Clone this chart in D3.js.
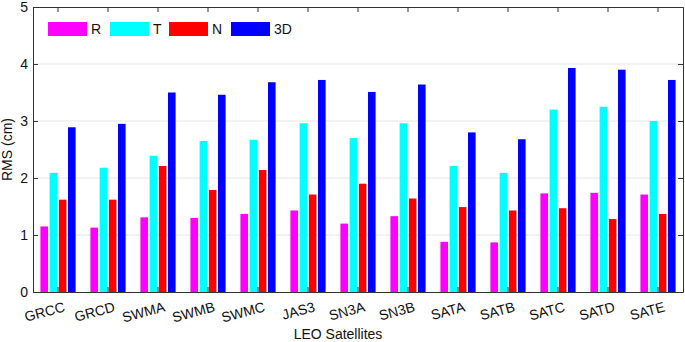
<!DOCTYPE html>
<html lang="en">
<head>
<meta charset="UTF-8">
<title>LEO RMS</title>
<script src="https://d3js.org/d3.v7.min.js"></script>
<style>
  body { margin: 0; background: #fff; }
  text { font-family: "Liberation Sans", Arial, sans-serif; fill: #111; }
</style>
</head>
<body>
<script>
var width = 685, height = 342;
var margin = { top: 7, right: 2, bottom: 50, left: 33 };

// data
var satellites = ['GRCC', 'GRCD', 'SWMA', 'SWMB', 'SWMC', 'JAS3', 'SN3A', 'SN3B', 'SATA', 'SATB', 'SATC', 'SATD', 'SATE'];
var seriesNames = ['R', 'T', 'N', '3D'];
var colors = ['#ff00ff', '#00ffff', '#ff0000', '#0000ff'];
var rValues = [1.15, 1.13, 1.31, 1.30, 1.37, 1.43, 1.20, 1.33, 0.88, 0.87, 1.73, 1.74, 1.71];
var tValues = [2.09, 2.18, 2.39, 2.65, 2.67, 2.96, 2.70, 2.96, 2.21, 2.09, 3.20, 3.25, 3.00];
var nValues = [1.62, 1.62, 2.21, 1.79, 2.14, 1.71, 1.90, 1.64, 1.49, 1.43, 1.47, 1.28, 1.37];
var d3Values = [2.89, 2.95, 3.50, 3.46, 3.68, 3.72, 3.51, 3.64, 2.80, 2.68, 3.93, 3.90, 3.72];
var yTicks = [0, 1, 2, 3, 4, 5];

var series = [rValues, tValues, nValues, d3Values];

var svg = d3.select('body').append('svg').attr('width', width).attr('height', height);
var plotW = width - margin.left - margin.right;
var plotH = height - margin.top - margin.bottom;
var g = svg.append('g').attr('transform', 'translate(' + margin.left + ',' + margin.top + ')');

var x = d3.scaleBand().domain(satellites).range([0, plotW]);
// 4 bars per group, spacing 9.2, width 7.6, centred on the category
var step = 9.2, barW = 7.6;
var y = d3.scaleLinear().domain([0, 5]).range([plotH, 0]);
var xc = function (d) { return x(d) + x.bandwidth() / 2; };

// grid
g.append('g').selectAll('line').data(yTicks.filter(function (d) { return d > 0 && d < 5; }))
  .join('line')
  .attr('x1', 0).attr('x2', plotW)
  .attr('y1', function (d) { return y(d); }).attr('y2', function (d) { return y(d); })
  .attr('stroke', '#e6e6e6').attr('stroke-width', 1);

// bars
var groups = g.append('g').selectAll('g').data(satellites).join('g')
  .attr('transform', function (d) { return 'translate(' + xc(d) + ',0)'; });

groups.selectAll('rect')
  .data(function (d, i) { return series.map(function (s, k) { return { k: k, v: s[i] }; }); })
  .join('rect')
  .attr('x', function (d) { return (d.k - 1.5) * step - barW / 2; })
  .attr('width', barW)
  .attr('y', function (d) { return y(d.v); })
  .attr('height', function (d) { return y(0) - y(d.v); })
  .attr('fill', function (d) { return colors[d.k]; });

// axes (ticks inward)
var axisColor = '#333';
var axBottom = g.append('g').attr('transform', 'translate(0,' + plotH + ')')
  .call(d3.axisBottom(x).tickSize(-5).tickSizeOuter(0).tickFormat(''));
var axTop = g.append('g')
  .call(d3.axisTop(x).tickSize(-5).tickSizeOuter(0).tickFormat(''));
var axLeft = g.append('g')
  .call(d3.axisLeft(y).tickValues(yTicks).tickSize(-5).tickSizeOuter(0).tickPadding(5).tickFormat(d3.format('d')));
var axRight = g.append('g').attr('transform', 'translate(' + plotW + ',0)')
  .call(d3.axisRight(y).tickValues(yTicks).tickSize(-5).tickSizeOuter(0).tickFormat(''));

[axBottom, axTop, axLeft, axRight].forEach(function (a) {
  a.select('.domain').attr('stroke', axisColor).attr('stroke-width', 1);
  a.selectAll('.tick line').attr('stroke', axisColor);
});
axLeft.selectAll('.tick text').attr('font-size', 14).attr('fill', '#111')
  .style('font-family', '"Liberation Sans", Arial, sans-serif');

// rotated category labels
g.append('g').selectAll('text').data(satellites).join('text')
  .attr('transform', function (d) { return 'translate(' + (xc(d) + 5) + ',' + (plotH + 9) + ') rotate(-15)'; })
  .attr('text-anchor', 'end')
  .attr('dy', '0.75em')
  .attr('font-size', 14)
  .text(function (d) { return d; });

// axis titles
svg.append('text')
  .attr('x', 338).attr('y', 339)
  .attr('text-anchor', 'middle').attr('font-size', 14)
  .text('LEO Satellites');
svg.append('text')
  .attr('transform', 'translate(12,' + (margin.top + plotH / 2) + ') rotate(-90)')
  .attr('text-anchor', 'middle').attr('font-size', 14)
  .text('RMS (cm)');

// legend
var legend = g.append('g').attr('transform', 'translate(15,15)');
var lg = legend.selectAll('g').data(seriesNames).join('g')
  .attr('transform', function (d, i) { return 'translate(' + [0, 62, 121, 183][i] + ',0)'; });
lg.append('rect').attr('width', 39).attr('height', 14)
  .attr('fill', function (d, i) { return colors[i]; });
lg.append('text').attr('x', 43).attr('y', 7).attr('dy', '0.36em')
  .attr('font-size', 14).text(function (d) { return d; });
</script>
</body>
</html>
